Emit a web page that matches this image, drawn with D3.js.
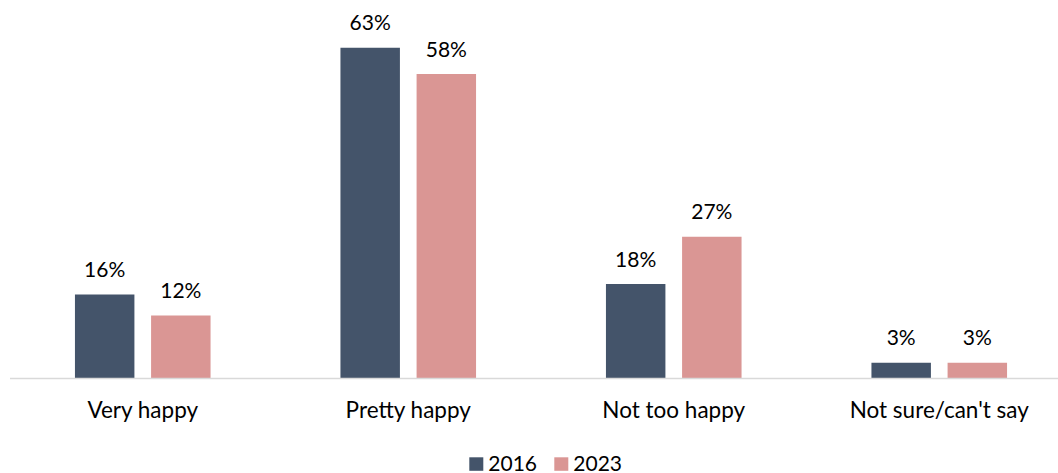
<!DOCTYPE html>
<html>
<head>
<meta charset="utf-8">
<script src="https://cdn.jsdelivr.net/npm/d3@7"></script>
<style>
  body { margin: 0; background: #fff; }
  svg { display: block; font-family: Lato, "Open Sans", sans-serif; }
  .axis-line { stroke: #d9d9d9; stroke-width: 1.5; }
  .value-label, .cat-label, .legend-label { fill: #000; }
</style>
</head>
<body>
<div id="chart"></div>
<script>
const categories = ["Very happy", "Pretty happy", "Not too happy", "Not sure/can't say"];
const seriesNames = ["2016", "2023"];
const values2016 = [16, 63, 18, 3];
const values2023 = [12, 58, 27, 3];
const colors = ["#44546A", "#DA9694"];

const width = 1058, height = 473;
const baseline = 378.5;

const svg = d3.select("#chart").append("svg")
    .attr("width", width)
    .attr("height", height);

// groups are 265.5px apart, first one starts at x=10
const x0 = d3.scaleBand()
    .domain(categories)
    .range([10, 10 + 265.5 * categories.length]);

const x1 = d3.scaleBand()
    .domain(seriesNames)
    .range([0, x0.bandwidth()])
    .paddingInner(0.219)
    .paddingOuter(0.853);

const y = d3.scaleLinear()
    .domain([0, 70])
    .range([baseline, baseline - 70 * 5.25]);

const rows = categories.map((c, i) => ({
    category: c,
    vals: [
        { name: seriesNames[0], value: values2016[i], color: colors[0] },
        { name: seriesNames[1], value: values2023[i], color: colors[1] }
    ]
}));

const group = svg.selectAll(".group")
    .data(rows)
    .enter().append("g")
    .attr("class", "group")
    .attr("transform", d => `translate(${x0(d.category)},0)`);

group.selectAll("rect")
    .data(d => d.vals)
    .enter().append("rect")
    .attr("x", d => x1(d.name))
    .attr("y", d => y(d.value))
    .attr("width", x1.bandwidth())
    .attr("height", d => baseline - y(d.value))
    .attr("fill", d => d.color);

group.selectAll(".value-label")
    .data(d => d.vals)
    .enter().append("text")
    .attr("class", "value-label")
    .attr("x", d => x1(d.name) + x1.bandwidth() / 2)
    .attr("y", d => y(d.value) - 17.5)
    .attr("text-anchor", "middle")
    .style("font-size", "21px")
    .text(d => d.value + "%");

svg.append("line")
    .attr("class", "axis-line")
    .attr("x1", 10)
    .attr("x2", 1058)
    .attr("y1", baseline)
    .attr("y2", baseline);

svg.selectAll(".cat-label")
    .data(categories)
    .enter().append("text")
    .attr("class", "cat-label")
    .attr("x", d => x0(d) + x0.bandwidth() / 2)
    .attr("y", 418)
    .attr("text-anchor", "middle")
    .style("font-size", "22.5px")
    .text(d => d);

// legend
const legendX = [469.3, 554.3];
const legend = svg.selectAll(".legend")
    .data(seriesNames)
    .enter().append("g")
    .attr("class", "legend")
    .attr("transform", (d, i) => `translate(${legendX[i]},457.3)`);

legend.append("rect")
    .attr("width", 14)
    .attr("height", 13.5)
    .attr("fill", (d, i) => colors[i]);

legend.append("text")
    .attr("class", "legend-label")
    .attr("x", 19)
    .attr("y", 13.5)
    .style("font-size", "21px")
    .text(d => d);
</script>
</body>
</html>
